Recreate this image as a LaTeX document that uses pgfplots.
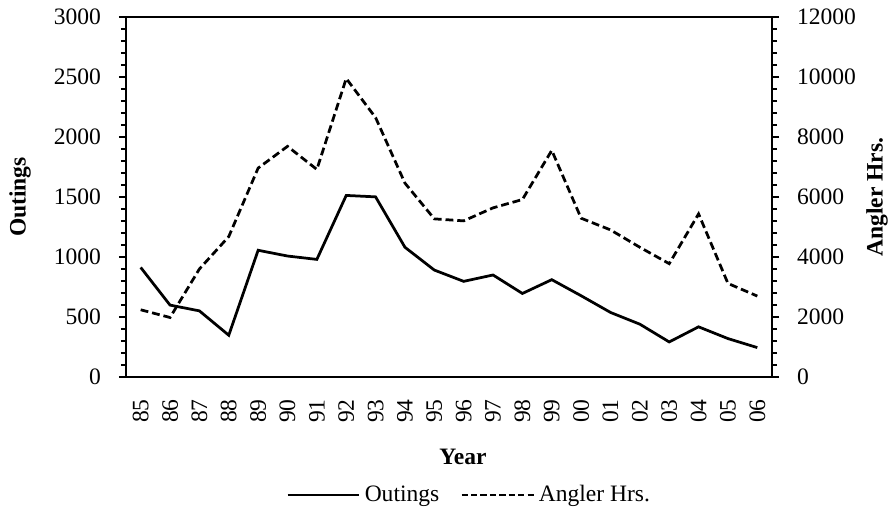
\documentclass[12pt,border=0pt]{standalone}
\usepackage{pgfplots}
\pgfplotsset{compat=1.18}
\usepackage{fontspec}
\setmainfont{Liberation Serif}

\pgfplotsset{
  common/.style={
    scale only axis,
    width=329.46pt, height=183.6pt,
    xmin=-0.5, xmax=21.5,
    tick align=outside,
    major tick length=3.6pt,
    minor tick length=2.6pt,
    axis line style={line width=1.3pt},
    every tick/.style={line width=1.2pt, black},
    scaled y ticks=false,
    /pgf/number format/assume math mode=true,
    /pgf/number format/1000 sep={},
    tick label style={inner sep=0pt, font=\fontsize{12}{14}\selectfont},
    label style={font=\fontsize{12}{14}\selectfont\bfseries},
    yticklabel shift=9pt,
  },
}

\begin{document}
\begin{tikzpicture}[font=\fontsize{12}{14}\selectfont]
\begin{axis}[
  common,
  ymin=0, ymax=3000,
  ytick={0,500,...,3000},
  minor y tick num=4,
  ytick pos=left,
  xtick={0,...,21},
  xticklabels={85,86,87,88,89,90,91,92,93,94,95,96,97,98,99,00,01,02,03,04,05,06},
  xtick pos=bottom,
  xtick style={draw=none},
  minor xtick={-0.5,0.5,...,21.5},
  xticklabel style={rotate=90, anchor=east},
  xticklabel shift=7.6pt,
  xlabel={Year},
  xlabel style={at={(rel axis cs:0.5217,-0.222)}, anchor=center},
  ylabel={Outings},
  ylabel style={at={(rel axis cs:-0.164,0.5)}, anchor=center},
  legend columns=2,
  legend style={draw=none, fill=none, at={(rel axis cs:0.531,-0.328)}, anchor=center,
    nodes={inner sep=1pt, font=\fontsize{12}{14}\selectfont}},
  legend image code/.code={\draw[#1] (0pt,0pt) -- (36.7pt,0pt);},
  /tikz/every odd column/.append style={column sep=1pt},
  /tikz/every even column/.append style={column sep=9.7pt},
]
\addplot[black, line width=1.4pt] coordinates {
(0,913) (1,599) (2,551) (3,348) (4,1056) (5,1008) (6,980) (7,1513) (8,1501) (9,1081)
(10,891) (11,797) (12,850) (13,696) (14,811) (15,677) (16,538) (17,440) (18,292) (19,418)
(20,320) (21,245)};
\addlegendentry{Outings}
\addlegendimage{black, line width=1.4pt, dash pattern=on 3.2pt off 1.6pt}
\addlegendentry{Angler Hrs.}
\end{axis}
\begin{axis}[
  common,
  ymin=0, ymax=12000,
  ytick={0,2000,...,12000},
  minor y tick num=4,
  axis y line*=right,
  axis x line=none,
  ylabel={Angler Hrs.},
  ylabel style={at={(rel axis cs:1.1625,0.5)}, rotate=0, anchor=center},
]
\addplot[black, line width=1.4pt, dash pattern=on 4pt off 2pt] coordinates {
(0,2240) (1,1983) (2,3600) (3,4680) (4,6963) (5,7688) (6,6919) (7,9950) (8,8647) (9,6462)
(10,5271) (11,5204) (12,5638) (13,5916) (14,7554) (15,5292) (16,4903) (17,4323) (18,3777) (19,5437)
(20,3119) (21,2697)};
\end{axis}
\pgfresetboundingbox
\path[use as bounding box] (-64.26pt,-68.85pt) rectangle (389.13pt,192.27pt);
\end{tikzpicture}
\end{document}
